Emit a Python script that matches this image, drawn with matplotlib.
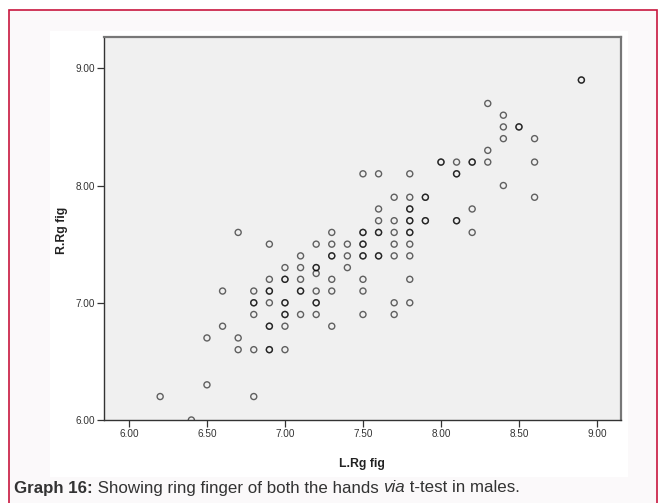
import matplotlib.pyplot as plt
from matplotlib.patches import Rectangle

# left / right ring finger measurements (males); repeated pairs are real duplicates
l_rg = [8.9, 8.9,
        8.3,
        8.4,
        8.4, 8.5, 8.5,
        8.4, 8.6,
        8.3,
        8.0, 8.0, 8.1, 8.2, 8.2, 8.3, 8.6,
        7.5, 7.6, 7.8, 8.1, 8.1,
        8.4,
        7.7, 7.8, 7.9, 7.9, 8.6,
        7.6, 7.8, 7.8, 8.2,
        7.6, 7.7, 7.8, 7.8, 7.9, 7.9, 8.1, 8.1,
        6.7, 7.3, 7.5, 7.5, 7.6, 7.6, 7.7, 7.8, 7.8, 8.2,
        6.9, 7.2, 7.3, 7.4, 7.5, 7.5, 7.7, 7.8,
        7.1, 7.3, 7.3, 7.4, 7.5, 7.5, 7.6, 7.6, 7.7, 7.8,
        7.0, 7.1, 7.2, 7.2, 7.4,
        7.2,
        6.9, 7.0, 7.0, 7.1, 7.3, 7.5, 7.8,
        6.6, 6.8, 6.9, 6.9, 7.1, 7.1, 7.2, 7.3, 7.5,
        6.8, 6.8, 6.9, 7.0, 7.0, 7.2, 7.2, 7.7, 7.8,
        6.8, 7.0, 7.0, 7.1, 7.2, 7.5, 7.7,
        6.6, 6.9, 6.9, 7.0, 7.3,
        6.5, 6.7,
        6.7, 6.8, 6.9, 6.9, 7.0,
        6.5,
        6.2, 6.8,
        6.4]
r_rg = [8.9, 8.9,
        8.7,
        8.6,
        8.5, 8.5, 8.5,
        8.4, 8.4,
        8.3,
        8.2, 8.2, 8.2, 8.2, 8.2, 8.2, 8.2,
        8.1, 8.1, 8.1, 8.1, 8.1,
        8.0,
        7.9, 7.9, 7.9, 7.9, 7.9,
        7.8, 7.8, 7.8, 7.8,
        7.7, 7.7, 7.7, 7.7, 7.7, 7.7, 7.7, 7.7,
        7.6, 7.6, 7.6, 7.6, 7.6, 7.6, 7.6, 7.6, 7.6, 7.6,
        7.5, 7.5, 7.5, 7.5, 7.5, 7.5, 7.5, 7.5,
        7.4, 7.4, 7.4, 7.4, 7.4, 7.4, 7.4, 7.4, 7.4, 7.4,
        7.3, 7.3, 7.3, 7.3, 7.3,
        7.25,
        7.2, 7.2, 7.2, 7.2, 7.2, 7.2, 7.2,
        7.1, 7.1, 7.1, 7.1, 7.1, 7.1, 7.1, 7.1, 7.1,
        7.0, 7.0, 7.0, 7.0, 7.0, 7.0, 7.0, 7.0, 7.0,
        6.9, 6.9, 6.9, 6.9, 6.9, 6.9, 6.9,
        6.8, 6.8, 6.8, 6.8, 6.8,
        6.7, 6.7,
        6.6, 6.6, 6.6, 6.6, 6.6,
        6.3,
        6.2, 6.2,
        6.0]

x_ticks = [6.0, 6.5, 7.0, 7.5, 8.0, 8.5, 9.0]
y_ticks = [6.0, 7.0, 8.0, 9.0]

plt.rcParams['font.family'] = ['Liberation Sans', 'DejaVu Sans']

fig = plt.figure(figsize=(6.65, 5.03), dpi=100)
W, H = 665, 503

# pink frame and white chart panel, kept behind the axes
fig.patches.append(Rectangle((8.5 / W, -0.02), 648 / W, 1 - 10 / H + 0.02,
                             transform=fig.transFigure, facecolor='#fbf9fa',
                             edgecolor='#c8163e', linewidth=1.2, zorder=-2))
fig.patches.append(Rectangle((49.6 / W, 1 - 477 / H), 578 / W, 446.5 / H,
                             transform=fig.transFigure, facecolor='white',
                             edgecolor='none', zorder=-1))

ax = fig.add_axes([104 / W, 1 - 420 / H, 517 / W, 383 / H])
ax.set_facecolor('#f0f0f0')
ax.scatter(l_rg, r_rg, s=19, facecolors='none', edgecolors='black',
           linewidths=1.0, alpha=0.6, zorder=3)

ax.set_xlim(5.84, 9.154)
ax.set_ylim(6.0, 9.267)
ax.set_xticks(x_ticks)
ax.set_yticks(y_ticks)
ax.set_xticklabels(['%.2f' % v for v in x_ticks])
ax.set_yticklabels(['%.2f' % v for v in y_ticks])
ax.tick_params(labelsize=7.2, colors='#333333', length=5, width=0.9, pad=1.5)

for side in ['left', 'bottom']:
    ax.spines[side].set_color('#333333')
    ax.spines[side].set_linewidth(1.0)
for side in ['top', 'right']:
    ax.spines[side].set_color('#777777')
    ax.spines[side].set_linewidth(1.6)

fig.text(362 / W, 1 - 464 / H, 'L.Rg fig', ha='center', va='center',
         fontsize=8.8, fontweight='bold', color='#222222')
fig.text(62 / W, 1 - 230 / H, 'R.Rg fig', ha='center', va='center',
         rotation=90, fontsize=8.8, fontweight='bold', color='#222222')

# caption pieced together so only "via" is italic and the label is bold
pieces = [('Graph 16:', 'bold', 'normal'),
          (' Showing ring finger of both the hands ', 'normal', 'normal'),
          ('via', 'normal', 'italic'),
          (' t-test in males.', 'normal', 'normal')]
renderer = fig.canvas.get_renderer()
x_px = 14
for txt, weight, style in pieces:
    t = fig.text(x_px / W, 1 - 488 / H, txt, ha='left', va='center',
                 fontsize=12.2, fontweight=weight, fontstyle=style,
                 color='#333333')
    bb = t.get_window_extent(renderer=renderer)
    x_px += bb.width

fig.savefig('out.png', dpi=100)
